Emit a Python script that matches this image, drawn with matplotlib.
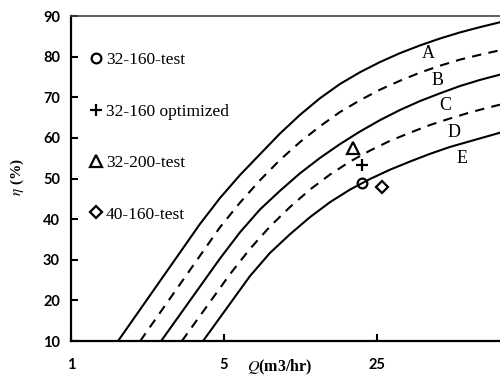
import matplotlib
matplotlib.use("Agg")
import matplotlib.pyplot as plt

plt.rcParams['mathtext.fontset'] = 'stix'

# efficiency curves (Q in m3/hr, eta in %)
q_a = [1.64, 3.88, 4.79, 5.92, 7.30, 9.01, 11.12, 13.73, 16.94, 20.91,
       25.80, 31.84, 39.30, 48.50, 59.84, 73.86, 91.15]
eta_a = [10, 38.8, 45.2, 50.9, 56.0, 61.1, 65.7, 69.8, 73.3, 76.2,
         78.7, 80.9, 82.8, 84.5, 86.0, 87.3, 88.5]

q_b = [2.07, 4.79, 5.92, 7.30, 9.01, 11.12, 13.73, 16.94, 20.91,
       25.80, 31.84, 39.30, 48.50, 59.84, 73.86, 91.15]
eta_b = [10, 38.0, 44.1, 49.6, 54.6, 59.0, 62.9, 66.4, 69.3,
         71.9, 74.1, 76.1, 77.8, 79.3, 80.5, 81.6]

q_c = [2.58, 4.79, 5.92, 7.30, 9.01, 11.12, 13.73, 16.94, 20.91,
       25.80, 31.84, 39.30, 48.50, 59.84, 73.86, 91.15]
eta_c = [10, 30.3, 36.8, 42.4, 47.0, 51.3, 55.1, 58.5, 61.6,
         64.4, 66.9, 69.1, 71.0, 72.8, 74.3, 75.6]

q_d = [3.21, 5.33, 6.57, 8.11, 10.01, 12.35, 15.25, 18.82, 23.22,
       28.67, 35.37, 43.65, 53.88, 66.49, 82.06, 91.15]
eta_d = [10, 26.5, 32.7, 38.2, 43.0, 47.3, 51.0, 54.2, 56.9,
         59.3, 61.3, 63.2, 64.8, 66.3, 67.6, 68.2]

q_e = [4.01, 6.57, 8.11, 10.01, 12.35, 15.25, 18.82, 23.22,
       28.67, 35.37, 43.65, 53.88, 66.49, 82.06, 91.15]
eta_e = [10, 26.0, 31.7, 36.3, 40.5, 44.2, 47.3, 49.9,
         52.2, 54.2, 56.1, 57.8, 59.2, 60.6, 61.3]

# measured points
point_names = ["32-160-test", "32-160 optimized", "32-200-test", "40-160-test"]
point_q = [21.4, 21.4, 19.4, 26.3]
point_eta = [48.9, 53.3, 57.5, 47.9]

curve_names = ["A", "B", "C", "D", "E"]
label_q = [42.7, 47.0, 51.1, 56.2, 61.1]
label_eta = [80.9, 74.2, 68.1, 61.4, 55.0]

x_ticks = [1, 5, 25]
y_ticks = [10, 20, 30, 40, 50, 60, 70, 80, 90]

fig = plt.figure(figsize=(5.0, 3.76), dpi=100)
ax = fig.add_axes([0.142, 0.093, 0.858, 0.864])

dash = (0, (4.5, 3.5))
ax.plot(q_a, eta_a, color="k", lw=1.5)
ax.plot(q_b, eta_b, color="k", lw=1.5, linestyle=dash)
ax.plot(q_c, eta_c, color="k", lw=1.5)
ax.plot(q_d, eta_d, color="k", lw=1.5, linestyle=dash)
ax.plot(q_e, eta_e, color="k", lw=1.5)

markers = [("o", 7), ("+", 9), ("^", 9), ("D", 6)]
for i in range(len(point_names)):
    m, ms = markers[i]
    ax.plot(point_q[i], point_eta[i], linestyle="none", marker=m, markersize=ms,
            markerfacecolor="none", markeredgecolor="k", markeredgewidth=1.6,
            label=point_names[i])

for i in range(len(curve_names)):
    ax.text(label_q[i], label_eta[i], curve_names[i], ha="center", va="center",
            fontsize=13, family="Liberation Serif")

ax.set_xscale("log", base=5)
ax.set_xlim(1, 91.15)
ax.set_ylim(10, 90)
ax.set_xticks(x_ticks)
ax.set_xticklabels([str(t) for t in x_ticks])
ax.xaxis.set_minor_locator(matplotlib.ticker.NullLocator())
ax.set_yticks(y_ticks)

for lbl in ax.get_xticklabels() + ax.get_yticklabels():
    lbl.set_family("Lato")
    lbl.set_weight("bold")
    lbl.set_fontsize(10.5)

ax.tick_params(axis="both", direction="in", length=5, width=1.5)
ax.tick_params(axis="x", pad=12)
ax.tick_params(axis="y", pad=8)

ax.spines["right"].set_visible(False)
ax.spines["left"].set_linewidth(1.6)
ax.spines["bottom"].set_linewidth(1.6)
ax.spines["top"].set_linewidth(1.2)
ax.spines["top"].set_color("#444444")

fig.text(0.56, 0.022, r"$Q$(m3/hr)", ha="center", va="center", fontsize=11.5,
         family="Liberation Serif", weight="bold")
fig.text(0.034, 0.529, r"$\eta$ (%)", ha="center", va="center", fontsize=11,
         family="Liberation Serif", weight="bold", rotation=90)

leg = ax.legend(loc="upper left", bbox_to_anchor=(0.045, 0.889), frameon=False,
                borderpad=0, borderaxespad=0, handlelength=0.7, handletextpad=0.2,
                labelspacing=2.03, numpoints=1,
                prop={"family": "Liberation Serif", "size": 12.5})

fig.savefig("out.png", dpi=100)
